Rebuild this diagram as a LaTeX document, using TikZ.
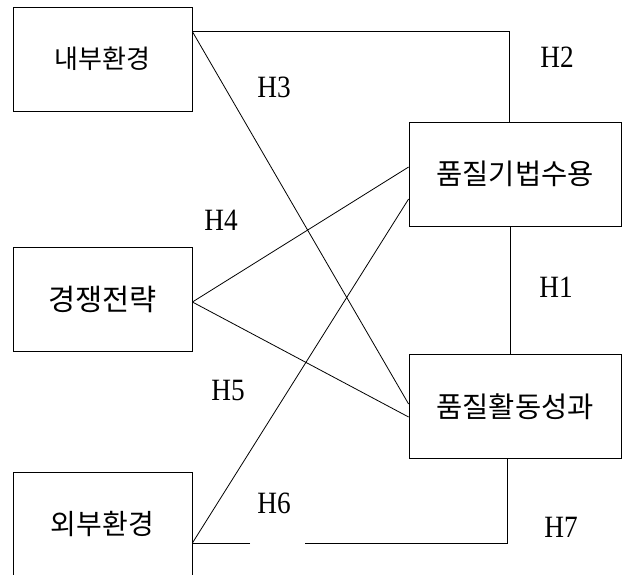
\documentclass[tikz,border=0pt]{standalone}
\usepackage{fontspec}
\setmainfont{Liberation Serif}
\newfontfamily\kofont{Noto Sans CJK KR}
\usetikzlibrary{calc}
\tikzset{
  box/.style={draw, line width=0.8pt, minimum width=179pt, minimum height=104pt, inner sep=0pt, font=\kofont\fontsize{26}{30}\selectfont},
  bigbox/.style={box, minimum width=212pt, font=\kofont\fontsize{28.5}{32}\selectfont},
  conn/.style={line width=0.8pt},
  hlabel/.style={inner sep=0pt, font=\fontsize{31}{34}\selectfont}
}
\newcommand{\hl}[1]{\scalebox{0.88}[1]{#1}}
\begin{document}
\begin{tikzpicture}[x=1pt,y=-1pt]
\useasboundingbox (0,0) rectangle (624,574);
\node[box] (n1) at (102.5,59) {내부환경};
\node[bigbox] (n2) at (515,174) {품질기법수용};
\node[box, font=\kofont\fontsize{29.5}{33}\selectfont] (n3) at (102.5,299.5) {경쟁전략};
\node[bigbox] (n4) at (515,406.5) {품질활동성과};
\node[box, font=\kofont\fontsize{28}{32}\selectfont] (n5) at (102.5,524) {외부환경};

\coordinate (a1) at ([yshift=-25pt]n1.north east);
\coordinate (a3) at ([yshift=-2.5pt]n3.east);
\coordinate (a5) at ([yshift=-19pt]n5.east);
\coordinate (gr) at (305,543);
\coordinate (gl) at (250,543);

% H2
\draw[conn] (a1) -| ([xshift=-6pt]n2.north);
% H3
\draw[conn] (a1) -- ([yshift=2.5pt]n4.west);
% H1
\draw[conn] ([xshift=-5pt]n2.south) -- ([xshift=-5pt]n4.north);
% H4
\draw[conn] (a3) -- ([yshift=7pt]n2.west);
% H5
\draw[conn] (a3) -- ([yshift=-10.5pt]n4.west);
% H6
\draw[conn] (a5) -- ([yshift=-25pt]n2.west);
% H7
\draw[conn] ([xshift=-8pt]n4.south) |- (gr);
\draw[conn] (gl) -- (a5);

\node[hlabel] (h2) at (557,57) {\hl{H2}};
\node[hlabel] (h3) at (274,87) {\hl{H3}};
\node[hlabel] (h4) at (221,220) {\hl{H4}};
\node[hlabel] (h1) at (556,287) {\hl{H1}};
\node[hlabel] (h5) at (228,390) {\hl{H5}};
\node[hlabel] (h6) at (274,503) {\hl{H6}};
\node[hlabel] (h7) at (561,527) {\hl{H7}};
\end{tikzpicture}
\end{document}
